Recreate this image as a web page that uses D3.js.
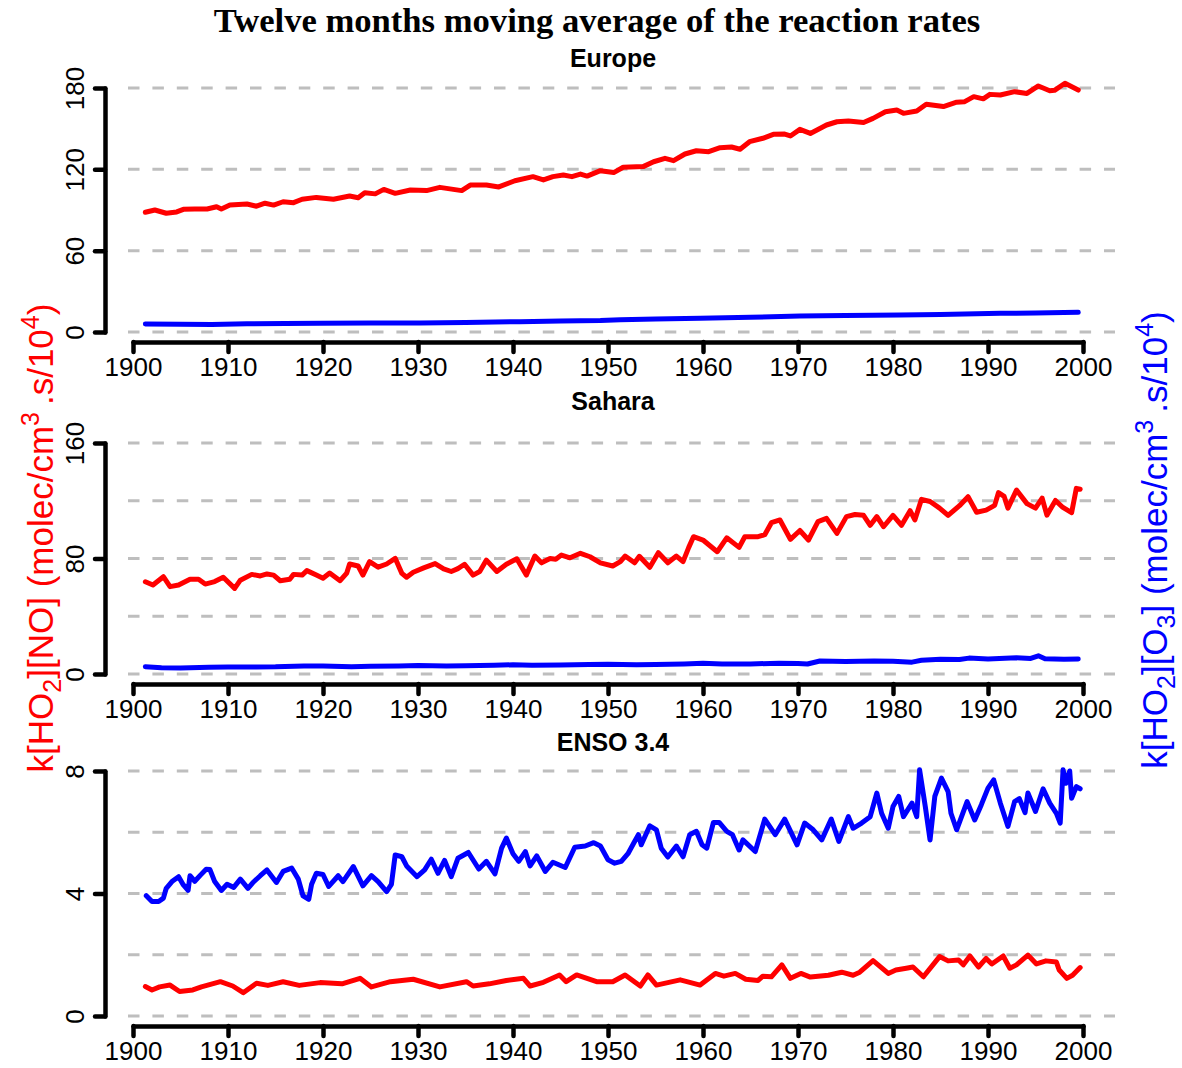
<!DOCTYPE html>
<html><head><meta charset="utf-8">
<script src="https://cdn.jsdelivr.net/npm/d3@7/dist/d3.min.js"></script>
<style>body{margin:0;background:#fff}</style>
</head><body>
<svg id="c" width="1182" height="1068"></svg>
<script>
// ---------- DATA (year, value) ----------
const xTicks = [1900,1910,1920,1930,1940,1950,1960,1970,1980,1990,2000];
const panelTitles = ["Europe","Sahara","ENSO 3.4"];
const europeGrid = [0,60,120,180];
const europeTicks = [0,60,120,180];
const saharaGrid = [0,40,80,120,160];
const saharaTicks = [0,80,160];
const ensoGrid = [0,2,4,6,8];
const ensoTicks = [0,4,8];

const europeNO = [[1901.3,88.3],[1902.3,90],[1903.5,87.6],[1904.6,88.6],[1905.3,90.5],[1906.5,90.8],[1907.8,90.7],[1908.8,92.4],[1909.3,90.7],[1910.2,93.7],[1912.0,94.4],[1913.0,92.8],[1913.9,95],[1914.8,93.6],[1915.8,96.1],[1916.9,95.4],[1917.8,97.9],[1919.3,99.3],[1921.1,97.9],[1922.8,100.3],[1923.7,99],[1924.4,102.8],[1925.5,101.9],[1926.4,105.2],[1927.6,102.3],[1929.2,104.8],[1930.9,104.3],[1932.3,106.7],[1934.6,104.3],[1935.5,108.4],[1937.2,108.4],[1938.5,107],[1940.2,111.6],[1942.1,114.6],[1943.2,112.2],[1944.2,114.6],[1945.3,115.8],[1946.2,114.6],[1947.1,116.5],[1947.8,115],[1949.2,119],[1950.6,117.6],[1951.6,121.5],[1953.7,122],[1954.8,125.6],[1956.0,128.1],[1956.9,126.4],[1958.1,131.3],[1959.3,133.7],[1960.6,133],[1961.8,136],[1963.0,136.5],[1963.9,134.8],[1964.9,140.4],[1966.3,142.9],[1967.4,145.8],[1968.6,146],[1969.2,144.6],[1970.2,149.5],[1971.3,146.5],[1973.0,152.7],[1974.1,155.1],[1975.3,155.7],[1976.9,154.5],[1977.9,157.6],[1979.2,162.5],[1980.4,163.7],[1981.1,161.3],[1982.5,163],[1983.5,168],[1985.3,166.3],[1986.7,169.5],[1987.5,169.8],[1988.5,173.6],[1989.5,172],[1990.2,175.3],[1991.3,174.8],[1992.8,177.3],[1994.1,176],[1995.3,181.5],[1996.5,178],[1997.0,178.3],[1998.1,183.5],[1999.5,178.5]];
const europeO3 = [[1901.3,5.9],[1905,5.7],[1908.3,5.5],[1912,6.0],[1916,6.2],[1919.7,6.4],[1925,6.6],[1930.2,6.6],[1935,7.1],[1940.7,7.6],[1945,8.2],[1949.2,8.4],[1951.3,9.1],[1955,9.5],[1959.7,10.1],[1965,10.9],[1970.2,11.8],[1975,12.1],[1980.7,12.5],[1985,13.0],[1991.3,13.8],[1995,14.0],[1999.5,14.5]];

const saharaNO = [[1901.3,63.9],[1902.1,61.6],[1903.2,67.4],[1903.9,60.5],[1904.8,61.6],[1906.0,65.6],[1906.9,65.6],[1907.6,62.3],[1908.6,64],[1909.5,67],[1910.7,59.3],[1911.3,65],[1912.5,69],[1913.4,67.9],[1914.1,69.3],[1914.8,68.5],[1915.5,64.6],[1916.5,65.6],[1916.9,69],[1917.8,68.5],[1918.3,71.6],[1919.3,68.5],[1920.0,66.3],[1920.7,69.9],[1921.8,64.6],[1922.5,69.9],[1922.8,76.2],[1923.7,74.8],[1924.2,68.5],[1924.9,77.8],[1925.8,74],[1926.7,76.2],[1927.6,80.1],[1928.3,69.7],[1928.8,67],[1929.5,70.5],[1930.6,73.5],[1931.8,76.5],[1932.7,72.8],[1933.5,71],[1934.2,73],[1934.9,76],[1935.8,68.5],[1936.5,71],[1937.2,78.9],[1938.3,71],[1939.3,76],[1940.4,79.8],[1941.4,68.5],[1942.3,81.7],[1943.0,77],[1943.9,80],[1944.5,79.5],[1945.1,82.4],[1946.0,80.5],[1947.1,83.6],[1948.1,81.2],[1949.2,77],[1950.5,74.8],[1951.3,77.8],[1951.8,81.7],[1952.8,77],[1953.3,81.5],[1954.4,73.9],[1955.3,84],[1956.3,77],[1957.2,81.7],[1957.9,77.8],[1958.5,87.7],[1959.0,95.1],[1960.0,92.8],[1961.5,84.7],[1962.5,94.3],[1963.8,87.7],[1964.4,95.1],[1965.8,95.1],[1966.5,96.5],[1967.2,104.8],[1968.1,106.7],[1969.2,93.3],[1970.2,99.4],[1971.1,92.8],[1972.1,105.5],[1973.0,107.8],[1974.1,97.4],[1975.1,109],[1976.0,110.5],[1976.9,109.9],[1977.6,103],[1978.3,109],[1979.0,102],[1980.0,109.9],[1980.9,103],[1981.8,113.1],[1982.3,106.7],[1983.0,121],[1983.9,119.5],[1984.9,114.9],[1985.8,109.9],[1987.0,116.6],[1987.9,122.8],[1988.8,112],[1989.8,113.5],[1990.7,116.8],[1991.1,125.6],[1991.7,123],[1992.1,114.9],[1993.0,127.4],[1994.1,118],[1995.0,114.9],[1995.7,121.8],[1996.2,110],[1997.1,120.2],[1997.8,115.8],[1998.8,111.7],[1999.3,128.6],[1999.7,128]];
const saharaO3 = [[1901.3,5.1],[1903,4.4],[1905,4.2],[1908,4.6],[1910,4.8],[1913,4.9],[1915,5.0],[1918,5.6],[1920,5.6],[1923,5.1],[1925,5.3],[1928,5.6],[1930,5.9],[1933,5.5],[1935,5.8],[1938,6.0],[1940,6.4],[1942,6.0],[1945,6.2],[1948,6.5],[1950,6.8],[1953,6.4],[1955,6.5],[1958,7.0],[1960,7.5],[1962,6.9],[1965,7.0],[1968,7.4],[1970,7.2],[1971,6.9],[1972.3,9.0],[1975,8.6],[1978,9.0],[1980,8.8],[1982,8.2],[1983,9.5],[1985,10.2],[1987,10.0],[1988,11.0],[1990,10.4],[1993,11.2],[1994.5,10.8],[1995.3,12.6],[1996,10.5],[1998,10.2],[1999.5,10.4]];

const ensoO3 = [[1901.4,3.93],[1902.0,3.74],[1902.7,3.74],[1903.2,3.85],[1903.5,4.17],[1904.1,4.39],[1904.8,4.55],[1905.3,4.28],[1905.8,4.1],[1906.0,4.58],[1906.5,4.4],[1907.1,4.6],[1907.7,4.79],[1908.1,4.78],[1908.6,4.39],[1909.3,4.1],[1909.9,4.3],[1910.6,4.2],[1911.3,4.47],[1912.1,4.17],[1912.6,4.35],[1913.4,4.58],[1914.1,4.77],[1915.1,4.36],[1915.8,4.72],[1916.7,4.83],[1917.4,4.47],[1917.9,3.92],[1918.5,3.81],[1918.8,4.3],[1919.3,4.66],[1920.0,4.62],[1920.6,4.23],[1921.6,4.58],[1922.1,4.39],[1923.2,4.88],[1924.2,4.25],[1925.1,4.58],[1925.8,4.39],[1926.7,4.06],[1927.2,4.3],[1927.6,5.26],[1928.3,5.2],[1928.8,4.9],[1929.9,4.55],[1930.7,4.77],[1931.4,5.12],[1932.1,4.66],[1932.8,5.08],[1933.5,4.55],[1934.2,5.15],[1935.3,5.34],[1936.4,4.8],[1937.2,5.05],[1938.1,4.64],[1938.8,5.48],[1939.3,5.81],[1940.0,5.3],[1940.6,5.05],[1941.3,5.37],[1941.8,4.9],[1942.5,5.23],[1943.4,4.72],[1944.2,5.02],[1945.5,4.85],[1946.5,5.51],[1947.6,5.55],[1948.5,5.66],[1949.2,5.55],[1950.0,5.1],[1950.7,4.99],[1951.4,5.05],[1952.1,5.3],[1952.7,5.64],[1953.2,5.92],[1953.5,5.59],[1954.4,6.21],[1955.1,6.08],[1955.6,5.48],[1956.3,5.19],[1957.2,5.55],[1957.9,5.2],[1958.6,5.92],[1959.3,6.03],[1959.9,5.59],[1960.4,5.48],[1961.1,6.32],[1961.7,6.32],[1962.5,6.03],[1963.1,5.92],[1963.8,5.42],[1964.2,5.75],[1965.5,5.37],[1966.5,6.43],[1967.6,5.92],[1968.6,6.43],[1969.9,5.59],[1970.7,6.3],[1971.6,6.08],[1972.5,5.75],[1973.5,6.43],[1974.3,5.7],[1975.3,6.51],[1975.8,6.13],[1976.7,6.3],[1977.6,6.51],[1978.3,7.28],[1978.8,6.62],[1979.5,6.13],[1980.0,6.84],[1980.6,7.17],[1981.1,6.51],[1982.0,6.95],[1982.5,6.51],[1982.8,8.04],[1983.4,6.84],[1983.9,5.75],[1984.4,7.17],[1985.1,7.77],[1985.8,7.33],[1986.1,6.62],[1986.7,6.08],[1987.8,7.0],[1988.6,6.4],[1989.3,6.9],[1990.0,7.44],[1990.6,7.71],[1991.3,6.95],[1992.1,6.19],[1992.8,7.0],[1993.3,7.1],[1993.9,6.64],[1994.2,7.28],[1995.0,6.68],[1995.8,7.42],[1996.5,6.95],[1997.2,6.62],[1997.6,6.3],[1997.9,8.04],[1998.2,7.6],[1998.6,8.0],[1998.8,7.11],[1999.3,7.49],[1999.7,7.42]];
const ensoNO = [[1901.3,0.96],[1902.0,0.85],[1902.8,0.95],[1903.9,1.01],[1904.9,0.8],[1906.3,0.85],[1907.2,0.95],[1909.2,1.12],[1910.5,0.98],[1911.6,0.76],[1913.0,1.07],[1914.2,1.0],[1915.8,1.12],[1917.5,1.0],[1919.7,1.09],[1922.0,1.05],[1923.9,1.23],[1925.1,0.95],[1927.1,1.12],[1929.5,1.2],[1932.3,0.95],[1935.1,1.12],[1935.8,0.98],[1937.5,1.05],[1939.3,1.16],[1941.1,1.23],[1941.8,0.98],[1943.2,1.1],[1944.9,1.34],[1945.6,1.12],[1946.7,1.34],[1948.8,1.12],[1950.5,1.12],[1951.8,1.34],[1953.4,0.98],[1954.2,1.34],[1955.1,1.01],[1957.6,1.18],[1959.7,1.01],[1961.3,1.39],[1962.2,1.3],[1963.4,1.39],[1964.5,1.2],[1965.8,1.16],[1966.3,1.3],[1967.2,1.28],[1968.3,1.67],[1969.2,1.23],[1970.3,1.39],[1971.3,1.27],[1973.2,1.33],[1974.6,1.43],[1975.8,1.33],[1976.5,1.43],[1977.9,1.81],[1979.5,1.39],[1980.3,1.5],[1981.4,1.56],[1982.1,1.6],[1983.2,1.28],[1984.9,1.94],[1985.8,1.8],[1986.9,1.83],[1987.4,1.67],[1988.1,1.96],[1989.0,1.6],[1989.8,1.88],[1990.4,1.7],[1991.6,1.96],[1992.3,1.56],[1993.0,1.67],[1994.2,1.99],[1995.1,1.7],[1996.1,1.8],[1997.2,1.76],[1997.5,1.5],[1998.3,1.23],[1998.9,1.33],[1999.7,1.58]];

// ---------- LAYOUT ----------
const svg = d3.select("#c");
const FONT = "'Liberation Sans', Arial, Helvetica, sans-serif";
const x = d3.scaleLinear().domain([1900,2000]).range([133,1083]);
const gridX1 = 128, gridX2 = 1115, axisX = 105;

const panels = [
  {title: panelTitles[0], titleY: 67, domain:[0,180], range:[332,88], grid: europeGrid, ticks: europeTicks, axisY: 342, red: europeNO, blue: europeO3},
  {title: panelTitles[1], titleY: 410, domain:[0,160], range:[674,443], grid: saharaGrid, ticks: saharaTicks, axisY: 684, red: saharaNO, blue: saharaO3},
  {title: panelTitles[2], titleY: 751, domain:[0,8], range:[1016,771], grid: ensoGrid, ticks: ensoTicks, axisY: 1026, red: ensoNO, blue: ensoO3}
];

// Title
const title = svg.append("text")
  .attr("x", 597).attr("y", 32).attr("text-anchor","middle")
  .style("font-family","'Liberation Serif','DejaVu Serif',serif").style("font-weight","bold")
  .style("font-size","30px").attr("fill","#000")
  .text("Twelve months moving average of the reaction rates");
{
  const w = title.node().getComputedTextLength();
  title.style("font-size", (30*767/w).toFixed(2)+"px");
}

panels.forEach(p => {
  const y = d3.scaleLinear().domain(p.domain).range(p.range);
  const g = svg.append("g");

  // gridlines
  g.selectAll("line.grid").data(p.grid).join("line")
    .attr("x1", gridX1).attr("x2", gridX2)
    .attr("y1", d => y(d)).attr("y2", d => y(d))
    .attr("stroke","#bebebe").attr("stroke-width",3)
    .attr("stroke-dasharray","11.5,12.9");

  // series
  const line = d3.line().x(d => x(d[0])).y(d => y(d[1]));
  [[p.blue,"#0000ff"],[p.red,"#ff0000"]].forEach(([data,col]) => {
    g.append("path").datum(data).attr("d", line)
      .attr("fill","none").attr("stroke",col).attr("stroke-width",5)
      .attr("stroke-linejoin","round").attr("stroke-linecap","round");
  });

  // y axis
  const ya = g.append("g").attr("transform",`translate(${axisX},0)`)
    .call(d3.axisLeft(y).tickValues(p.ticks).tickSize(10).tickSizeOuter(0).tickPadding(0));
  ya.selectAll("path.domain, line").attr("stroke","#000").attr("stroke-width",4.5).attr("stroke-linecap","round");
  ya.selectAll("text")
    .attr("x",null).attr("dy",null).attr("text-anchor","middle")
    .attr("transform","translate(-21,0) rotate(-90)")
    .style("font-family",FONT).style("font-size","26px").attr("fill","#000");

  // x axis
  const xa = g.append("g").attr("transform",`translate(0,${p.axisY})`)
    .call(d3.axisBottom(x).tickValues(xTicks).tickFormat(d3.format("d")).tickSize(10).tickSizeOuter(0).tickPadding(6));
  xa.selectAll("path.domain, line").attr("stroke","#000").attr("stroke-width",4.5).attr("stroke-linecap","round");
  xa.selectAll("text").style("font-family",FONT).style("font-size","26px").attr("fill","#000");
  ya.attr("font-family",null); xa.attr("font-family",null);

  // panel title
  svg.append("text").attr("x",613).attr("y",p.titleY).attr("text-anchor","middle")
    .style("font-family",FONT).style("font-weight","bold").style("font-size","25px")
    .text(p.title);
});

// axis titles with sub/superscripts
function axisTitle(cx, cy, color, parts) {
  const t = svg.append("text")
    .attr("transform",`translate(${cx},${cy}) rotate(-90)`)
    .attr("text-anchor","middle")
    .style("font-family",FONT).style("font-size","35px").attr("fill",color);
  parts.forEach(([s,kind]) => {
    const ts = t.append("tspan").text(s);
    if (kind === "sub") ts.attr("font-size","25px").attr("baseline-shift","-8px");
    if (kind === "sup") ts.attr("font-size","25px").attr("baseline-shift","14px");
  });
}
axisTitle(53, 538, "#ff0000", [["k[HO"],["2","sub"],["][NO] (molec/cm"],["3","sup"],["\u2009.s/10"],["4","sup"],[")"]]);
axisTitle(1167, 540, "#0000ff", [["k[HO"],["2","sub"],["][O"],["3","sub"],["] (molec/cm"],["3","sup"],["\u2009.s/10"],["4","sup"],[")"]]);
</script>
</body></html>
